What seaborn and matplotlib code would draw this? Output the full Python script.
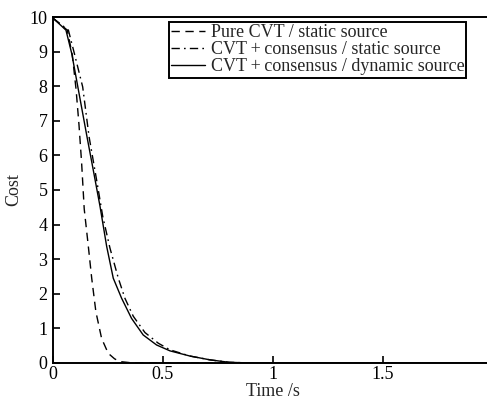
import numpy as np
import pandas as pd
import matplotlib
matplotlib.use("Agg")
import matplotlib.pyplot as plt
import seaborn as sns

# Data
t_pure = [0.0, 0.005, 0.065, 0.088, 0.105, 0.118, 0.13, 0.142, 0.16, 0.176, 0.195,
          0.221, 0.251, 0.28, 0.305, 0.35, 0.4, 1.0, 2.0]
c_pure = [9.96, 9.94, 9.62, 8.9, 7.9, 6.9, 5.8, 4.45, 3.41, 2.45, 1.48,
          0.71, 0.28, 0.12, 0.04, 0.01, 0.0, 0.0, 0.0]

t_cons_static = [0.0, 0.005, 0.07, 0.097, 0.135, 0.164, 0.201, 0.226, 0.259, 0.297,
                 0.327, 0.365, 0.418, 0.479, 0.532, 0.623, 0.714, 0.8, 0.9, 1.0, 2.0]
c_cons_static = [9.96, 9.94, 9.62, 8.95, 7.98, 6.54, 5.19, 4.24, 3.32, 2.45,
                 1.87, 1.35, 0.88, 0.57, 0.38, 0.2, 0.09, 0.02, 0.0, 0.0, 0.0]

t_cons_dynamic = [0.0, 0.005, 0.059, 0.085, 0.113, 0.156, 0.183, 0.214, 0.244,
                  0.274, 0.312, 0.357, 0.41, 0.471, 0.532, 0.623, 0.714, 0.8, 0.9, 1.0, 2.0]
c_cons_dynamic = [9.96, 9.94, 9.62, 8.95, 7.98, 6.49, 5.58, 4.52, 3.37,
                  2.45, 1.87, 1.29, 0.81, 0.52, 0.35, 0.2, 0.09, 0.02, 0.0, 0.0, 0.0]

labels = ["Pure CVT / static source",
          "CVT\u2009+\u2009consensus / static source",
          "CVT\u2009+\u2009consensus / dynamic source"]
x_ticks = [0, 0.5, 1, 1.5, 2]
x_tick_labels = ["0", "0.5", "1", "1.5", "2"]
y_ticks = list(range(0, 11))

sns.set_style("ticks")
plt.rcParams['font.family'] = ['Liberation Serif', 'DejaVu Serif']

FS = 13

fig = plt.figure(figsize=(4.87, 4.01), dpi=100)
ax = fig.add_axes([0.1088, 0.0948, 0.9035, 0.8628])

sns.lineplot(x=t_pure, y=c_pure, ax=ax, color="black", lw=1.0,
             linestyle=(0, (6, 4)), label=labels[0], sort=False)
sns.lineplot(x=t_cons_static, y=c_cons_static, ax=ax, color="black", lw=1.0,
             linestyle=(0, (6, 3, 1.2, 3)), label=labels[1], sort=False)
sns.lineplot(x=t_cons_dynamic, y=c_cons_dynamic, ax=ax, color="black", lw=1.0,
             linestyle="-", label=labels[2], sort=False)

ax.set_xlim(0, 2)
ax.set_ylim(0, 10)
ax.set_xticks(x_ticks)
ax.set_xticklabels(x_tick_labels)
ax.set_yticks(y_ticks)
ax.tick_params(direction="in", length=5, width=1.2, labelsize=FS, colors="black",
               pad=4)
ax.tick_params(axis="x", pad=2.5)
for s in ["left", "bottom", "top", "right"]:
    ax.spines[s].set_visible(True)
    ax.spines[s].set_linewidth(1.4)
    ax.spines[s].set_color("black")

ax.set_xlabel("Time /s", fontsize=FS, labelpad=0)
ax.set_ylabel("Cost", fontsize=FS, labelpad=5)

leg = ax.legend(loc="upper left", bbox_to_anchor=(0.2628, 0.985), fontsize=FS,
                frameon=True, fancybox=False, edgecolor="black", framealpha=1,
                handlelength=1.9, handletextpad=0.3, borderpad=0.12,
                labelspacing=0.0, borderaxespad=0)
leg.get_frame().set_linewidth(1.4)

fig.savefig("out.png", dpi=100)
